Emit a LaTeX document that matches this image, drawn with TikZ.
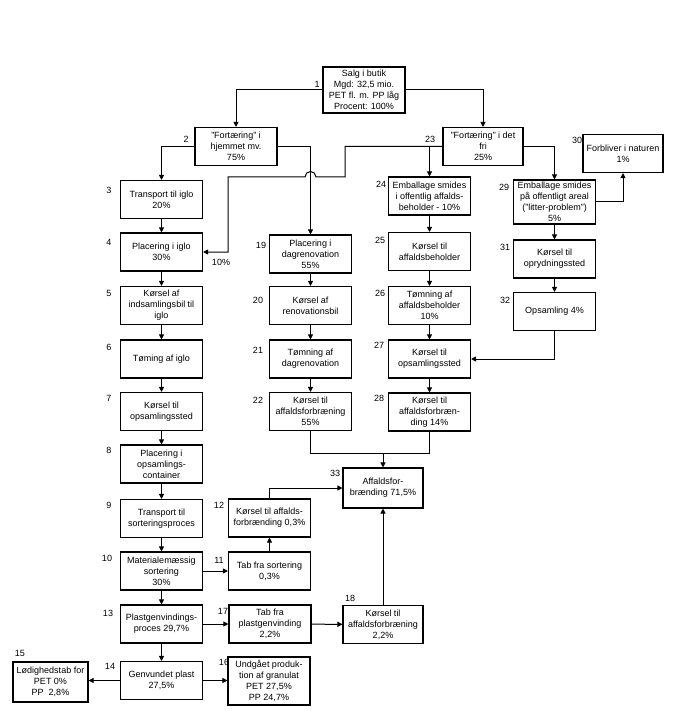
\documentclass[tikz,border=0pt]{standalone}
\usepackage{fontspec}
\setmainfont{Liberation Sans}
\usetikzlibrary{arrows.meta}

\begin{document}
\begin{tikzpicture}[x=1pt,y=-1pt,>={Triangle[length=5pt,width=5pt]},
  box/.style={draw,line width=1.1pt,minimum width=82pt,minimum height=38pt,inner sep=1pt,align=center,font=\fontsize{9}{11}\selectfont},
  num/.style={inner sep=0pt,font=\fontsize{9}{11}\selectfont},
  flow/.style={->,line width=1pt}]
\useasboundingbox (0,0) rectangle (679,711);
% top
\node[box,minimum height=46pt] (b1) at (364,90) {Salg i butik\\Mgd: 32,5 mio.\\PET fl. m. PP låg\\Procent: 100\%};
\node[box] (b2) at (236,146.5) {"Fortæring" i\\hjemmet mv.\\75\%};
\node[box,minimum width=80pt] (b23) at (483,146.5) {"Fortæring" i det\\fri\\25\%};
\node[box,minimum width=80pt] (b30) at (623,153.5) {Forbliver i naturen\\1\%};
% left column
\node[box] (b3) at (161.5,199.5) {Transport til iglo\\20\%};
\node[box] (b4) at (161.5,252) {Placering i iglo\\30\%};
\node[box] (b5) at (161.5,305.5) {Kørsel af\\indsamlingsbil til\\iglo};
\node[box] (b6) at (161.5,359) {Tøming af iglo};
\node[box] (b7) at (161.5,411.5) {Kørsel til\\opsamlingssted};
\node[box] (b8) at (161.5,464) {Placering i\\opsamlings-\\container};
\node[box] (b9) at (161.5,518.5) {Transport til\\sorteringsproces};
\node[box] (b10) at (161.5,571) {Materialemæssig\\sortering\\30\%};
\node[box] (b13) at (161.5,624) {Plastgenvindings-\\proces 29,7\%};
\node[box] (b14) at (161.5,680.5) {Genvundet plast\\27,5\%};
\node[box,minimum width=75pt,minimum height=40pt] (b15) at (50.5,682) {Lødighedstab for\\PET 0\%\\PP\ \ 2,8\%};
\node[box,minimum height=48pt] (b16) at (269,681) {Undgået produk-\\tion af granulat\\PET 27,5\%\\PP 24,7\%};
\node[box] (b17) at (270,624) {Tab fra\\plastgenvinding\\2,2\%};
\node[box] (b11) at (269.5,571) {Tab fra sortering\\0,3\%};
\node[box] (b12) at (269.5,518) {Kørsel til affalds-\\forbrænding 0,3\%};
\node[box,minimum width=80pt,minimum height=40pt] (b33) at (383,488) {Affaldsfor-\\brænding 71,5\%};
\node[box,minimum width=80pt] (b18) at (383,624.5) {Kørsel til\\affaldsforbræning\\2,2\%};
% middle column
\node[box] (b19) at (310.5,254) {Placering i\\dagrenovation\\55\%};
\node[box] (b20) at (310.5,305.5) {Kørsel af\\renovationsbil};
\node[box] (b21) at (310.5,359) {Tømning af\\dagrenovation};
\node[box] (b22) at (310.5,411.5) {Kørsel til\\affaldsforbræning\\55\%};
% right columns
\node[box] (b24) at (429.5,196) {Emballage smides\\i offentlig affalds-\\beholder - 10\%};
\node[box] (b25) at (429.5,251.5) {Kørsel til\\affaldsbeholder};
\node[box] (b26) at (429.5,305.5) {Tømning af\\affaldsbeholder\\10\%};
\node[box] (b27) at (429.5,359) {Kørsel til\\opsamlingssted};
\node[box] (b28) at (429.5,412) {Kørsel til\\affaldsforbræn-\\ding 14\%};
\node[box,minimum height=44pt] (b29) at (554.5,202) {Emballage smides\\på offentligt areal\\("litter-problem")\\5\%};
\node[box] (b31) at (554.5,259) {Kørsel til\\oprydningssted};
\node[box] (b32) at (554.5,311.5) {Opsamling 4\%};
% numbers
\node[num] (n1) at (317,84) {1};
\node[num] (n2) at (186,139) {2};
\node[num] (n23) at (430,139) {23};
\node[num] (n30) at (577,140) {30};
\node[num] (n3) at (109,190) {3};
\node[num] (n4) at (109,242) {4};
\node[num] (n5) at (109,293) {5};
\node[num] (n6) at (109,347) {6};
\node[num] (n7) at (109,398) {7};
\node[num] (n8) at (109,450) {8};
\node[num] (n9) at (109,505) {9};
\node[num] (n10) at (107,558) {10};
\node[num] (n13) at (108,613) {13};
\node[num] (n14) at (110,666) {14};
\node[num] (n15) at (20,653) {15};
\node[num] (n16) at (224,662) {16};
\node[num] (n17) at (223,611) {17};
\node[num] (n11) at (219,560) {11};
\node[num] (n12) at (219,505) {12};
\node[num] (n18) at (350,598) {18};
\node[num] (n33) at (335,473) {33};
\node[num] (n19) at (261,245) {19};
\node[num] (n20) at (258,300) {20};
\node[num] (n21) at (258,350) {21};
\node[num] (n22) at (258,400) {22};
\node[num] (n24) at (381,184) {24};
\node[num] (n25) at (380,240) {25};
\node[num] (n26) at (380,293) {26};
\node[num] (n27) at (379,345) {27};
\node[num] (n28) at (379,398) {28};
\node[num] (n29) at (504,187) {29};
\node[num] (n31) at (505,247) {31};
\node[num] (n32) at (505,300) {32};
\node[num] (p10) at (221,262) {10\%};
% connectors
\draw[flow] (b1.west) -| (b2.north);
\draw[flow] (b1.east) -| (b23.north);
\draw[flow] (b2.west) -| (b3.north);
\draw[flow] (b2.east) -| (b19.north);
\coordinate (k1) at (345,146.5);
\coordinate (k2) at (345,177);
\coordinate (hop) at (316,177);
\coordinate (k3) at (228,177);
\draw[flow] (b23.west) -- (k1) -- (k2) -- (hop) arc[start angle=0,end angle=180,radius=5.5pt] -- (k3) |- (b4.east);
\draw[flow] (b24.north |- k1) -- (b24.north);
\draw[flow] (b23.east) -| (b29.north);
\draw[flow] (b29.east) -| (b30.south);
\foreach \a/\b in {b3/b4,b4/b5,b5/b6,b6/b7,b7/b8,b8/b9,b9/b10,b10/b13,b13/b14,
  b19/b20,b20/b21,b21/b22,b24/b25,b25/b26,b26/b27,b27/b28,b29/b31,b31/b32,
  b10/b11,b11/b12,b13/b17,b17/b18,b18/b33}
  \draw[flow] (\a) -- (\b);
\draw[flow] (b32.south) |- (b27.east);
\coordinate (mj) at (383,453);
\draw[line width=1pt] (b22.south) |- (b28.south |- mj) -- (b28.south);
\draw[flow] (mj) -- (b33.north);
\draw[flow] (b12.north) |- (b33.west);
\draw[flow] (b14.west) -- (b14.west -| b15.east);
\draw[flow] (b14.east) -- (b14.east -| b16.west);
\end{tikzpicture}
\end{document}
